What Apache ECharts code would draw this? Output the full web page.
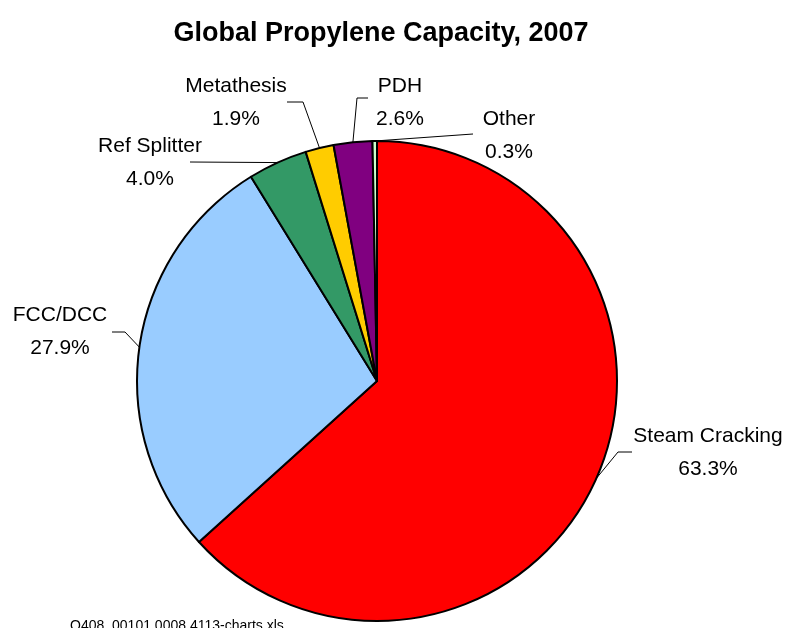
<!DOCTYPE html>
<html>
<head>
<meta charset="utf-8">
<script src="https://cdn.jsdelivr.net/npm/echarts@6/dist/echarts.min.js"></script>
<style>
  html, body { margin: 0; padding: 0; background: #fff; }
  #main { width: 785px; height: 628px; }
</style>
</head>
<body>
<div id="main"></div>
<script>
const categories = ['Steam Cracking', 'FCC/DCC', 'Ref Splitter', 'Metathesis', 'PDH', 'Other']
const shares = [63.3, 27.9, 4.0, 1.9, 2.6, 0.3]
const colors = ['#FF0000', '#99CCFF', '#339966', '#FFCC00', '#800080', '#CCFFCC']

// where each label sits + the elbow / end of its leader line
const labelSpots = [
  { x: 708, y: 453, elbow: [618, 452], end: [632, 452] },
  { x: 60, y: 332, elbow: [125, 332], end: [112, 332] },
  { x: 150, y: 163, elbow: [190, 162], end: [190, 162] },
  { x: 236, y: 103, elbow: [303, 102], end: [287, 102] },
  { x: 400, y: 103, elbow: [357, 98], end: [368, 98] },
  { x: 509, y: 136, elbow: [473, 134], end: [473, 134] }
]

const labelFont = "'Liberation Sans', Arial, sans-serif"

var myChart = echarts.init(document.getElementById('main'))
var option

option = {
  backgroundColor: '#fff',
  animation: false,
  title: [
    {
      text: 'Global Propylene Capacity, 2007',
      left: 376,
      top: 15,
      textAlign: 'center',
      textStyle: {
        fontFamily: labelFont,
        fontWeight: 'bold',
        fontSize: 27,
        color: '#000'
      }
    },
    {
      text: 'Q408_00101.0008.4113-charts.xls', // 文件名脚注
      left: 65,
      top: 614,
      textStyle: {
        fontFamily: labelFont,
        fontWeight: 'normal',
        fontSize: 14,
        color: '#000'
      }
    }
  ],
  series: [
    {
      type: 'pie',
      center: [377, 381],
      radius: 240,
      startAngle: 90,
      clockwise: true,
      avoidLabelOverlap: false,
      silent: true,
      data: categories.map((name, i) => ({
        name: name,
        value: shares[i],
        itemStyle: { color: colors[i] }
      })),
      itemStyle: {
        borderColor: '#000',
        borderWidth: 2
      },
      label: {
        show: true,
        position: 'outside',
        fontFamily: labelFont,
        fontSize: 21,
        lineHeight: 33,
        color: '#000',
        align: 'center',
        formatter: (p) => p.name + '\n' + p.value.toFixed(1) + '%'
      },
      labelLine: {
        show: true,
        length: 10,
        length2: 10,
        lineStyle: { color: '#000', width: 1 }
      },
      labelLayout: function(params) {
        const s = labelSpots[params.dataIndex]
        const start = params.labelLinePoints ? params.labelLinePoints[0] : s.elbow
        return {
          x: s.x,
          y: s.y,
          align: 'center',
          verticalAlign: 'middle',
          labelLinePoints: [start, s.elbow, s.end]
        }
      }
    }
  ]
}

option && myChart.setOption(option)
</script>
</body>
</html>
